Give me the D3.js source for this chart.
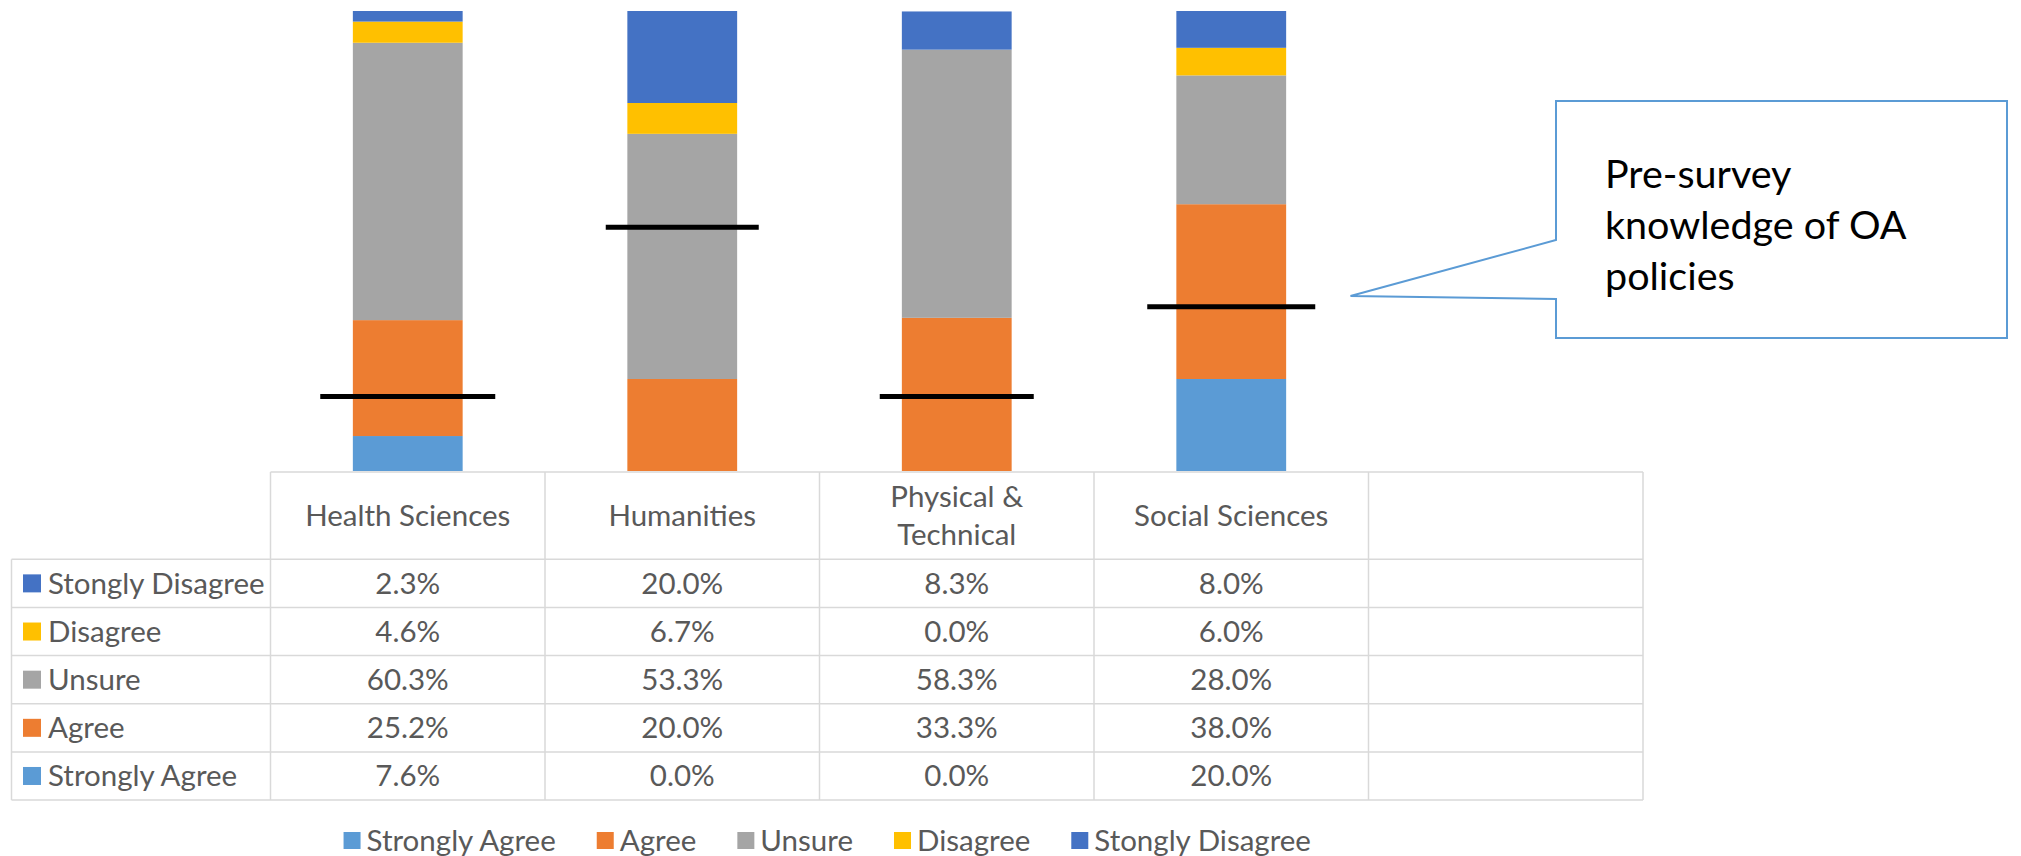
<!DOCTYPE html>
<html>
<head>
<meta charset="utf-8">
<script src="https://cdn.jsdelivr.net/npm/d3@7"></script>
<style>
  body { margin: 0; background: #fff; }
  svg { display: block; font-family: Lato, sans-serif; }
</style>
</head>
<body>
<div id="chart"></div>
<script>
// data (percent)
var categories = ["Health Sciences", "Humanities", "Physical & Technical", "Social Sciences"];
var seriesNames = ["Strongly Agree", "Agree", "Unsure", "Disagree", "Stongly Disagree"];
var stronglyAgree   = [7.6, 0.0, 0.0, 20.0];
var agree           = [25.2, 20.0, 33.3, 38.0];
var unsure          = [60.3, 53.3, 58.3, 28.0];
var disagree        = [4.6, 6.7, 0.0, 6.0];
var stonglyDisagree = [2.3, 20.0, 8.3, 8.0];
// black markers: pre-survey knowledge level
var preSurvey = [16.2, 53.0, 16.2, 35.7];
var calloutLines = ["Pre-survey", "knowledge of OA", "policies"];

var seriesValues = [stronglyAgree, agree, unsure, disagree, stonglyDisagree];
var colors = ["#5B9BD5", "#ED7D31", "#A5A5A5", "#FFC000", "#4472C4"];

var svgWidth = 2021, svgHeight = 856;
var plot = { left: 270.5, right: 1643, top: 11, bottom: 471 };
var table = { left: 11.5, top: 472, headerBottom: 559.3, rowH: 48.15 };
var fontSize = 29.5;
var textColor = "#595959";
var gridColor = "#D9D9D9";

var svg = d3.select("#chart").append("svg")
  .attr("width", svgWidth)
  .attr("height", svgHeight);

// table rows build
var rows = categories.map(function(c, i) {
  var r = { cat: c };
  seriesNames.forEach(function(s, j) { r[s] = seriesValues[j][i]; });
  return r;
});

// scales - the chart has an extra empty column at the end
var xDomain = categories.concat([""]);
var x = d3.scaleBand()
  .domain(xDomain)
  .range([plot.left, plot.right])
  .paddingInner(0.6)
  .paddingOuter(0.3);

var xCol = d3.scaleBand()
  .domain(xDomain)
  .range([plot.left, plot.right]);

var y = d3.scaleLinear()
  .domain([0, 100])
  .range([plot.bottom, plot.top]);

var stack = d3.stack().keys(seriesNames);
var stacked = stack(rows);

// stacked bars
svg.append("g").selectAll("g")
  .data(stacked)
  .enter()
  .append("g")
  .attr("fill", function(d, i) { return colors[i]; })
  .selectAll("rect")
  .data(function(d) { return d; })
  .enter()
  .append("rect")
  .attr("x", function(d) { return x(d.data.cat); })
  .attr("y", function(d) { return y(d[1]); })
  .attr("width", x.bandwidth())
  .attr("height", function(d) { return y(d[0]) - y(d[1]); });

// pre-survey marker lines
var markerLen = [175, 153, 154, 168];
svg.append("g").selectAll("line")
  .data(preSurvey)
  .enter()
  .append("line")
  .attr("x1", function(d, i) { return x(categories[i]) + x.bandwidth() / 2 - markerLen[i] / 2; })
  .attr("x2", function(d, i) { return x(categories[i]) + x.bandwidth() / 2 + markerLen[i] / 2; })
  .attr("y1", function(d) { return y(d); })
  .attr("y2", function(d) { return y(d); })
  .attr("stroke", "#000")
  .attr("stroke-width", 5);

// callout
var tipX = 1350.5, tipY = 296;
var box = { x: 1556, y: 101, w: 451, h: 237 };
var calloutPath = "M" + box.x + "," + box.y +
  " L" + (box.x + box.w) + "," + box.y +
  " L" + (box.x + box.w) + "," + (box.y + box.h) +
  " L" + box.x + "," + (box.y + box.h) +
  " L" + box.x + ",299" +
  " L" + tipX + "," + tipY +
  " L" + box.x + ",240 Z";
svg.append("path")
  .attr("d", calloutPath)
  .attr("fill", "#fff")
  .attr("stroke", "#5B9BD5")
  .attr("stroke-width", 2);

svg.append("g").selectAll("text")
  .data(calloutLines)
  .enter()
  .append("text")
  .attr("x", 1605)
  .attr("y", function(d, i) { return 188 + i * 51; })
  .attr("font-size", 39.5)
  .attr("fill", "#000")
  .text(function(d) { return d; });

// data table
var tableRight = plot.right;
var rowOrder = seriesNames.slice().reverse();
var nRows = rowOrder.length;
var tableBottom = table.headerBottom + nRows * table.rowH;
var grid = svg.append("g")
  .attr("stroke", gridColor)
  .attr("stroke-width", 1.5)
  .attr("fill", "none");

// header top border + left border of row labels
grid.append("line")
  .attr("x1", plot.left).attr("x2", tableRight)
  .attr("y1", table.top).attr("y2", table.top);
grid.append("line")
  .attr("x1", table.left).attr("x2", table.left)
  .attr("y1", table.headerBottom).attr("y2", tableBottom);

// horizontal row lines
d3.range(nRows + 1).forEach(function(i) {
  var yy = table.headerBottom + i * table.rowH;
  grid.append("line")
    .attr("x1", table.left).attr("x2", tableRight)
    .attr("y1", yy).attr("y2", yy);
});

// vertical column lines
xDomain.forEach(function(c) {
  grid.append("line")
    .attr("x1", xCol(c)).attr("x2", xCol(c))
    .attr("y1", table.top).attr("y2", tableBottom);
});
grid.append("line")
  .attr("x1", tableRight).attr("x2", tableRight)
  .attr("y1", table.top).attr("y2", tableBottom);

// header text with wrapping
var headerG = svg.append("g")
  .attr("font-size", fontSize)
  .attr("fill", textColor)
  .attr("text-anchor", "middle");

categories.forEach(function(c) {
  var t = headerG.append("text")
    .attr("x", xCol(c) + xCol.bandwidth() / 2);
  var words = c.split(" ");
  var lines = [], line = [];
  words.forEach(function(w) {
    line.push(w);
    t.text(line.join(" "));
    if (t.node().getComputedTextLength() > xCol.bandwidth() - 40 && line.length > 1) {
      line.pop();
      lines.push(line.join(" "));
      line = [w];
    }
  });
  lines.push(line.join(" "));
  t.text(null);
  var lh = 38.4;
  var mid = (table.top + table.headerBottom) / 2;
  lines.forEach(function(l, k) {
    t.append("tspan")
      .attr("x", xCol(c) + xCol.bandwidth() / 2)
      .attr("y", mid + (k - (lines.length - 1) / 2) * lh)
      .attr("dy", "0.35em")
      .text(l);
  });
});

// row labels with colour keys
var fmt = d3.format(".1f");
rowOrder.forEach(function(s, r) {
  var cy = table.headerBottom + (r + 0.5) * table.rowH;
  var j = seriesNames.indexOf(s);
  svg.append("rect")
    .attr("x", table.left + 11.5)
    .attr("y", cy - 9)
    .attr("width", 18)
    .attr("height", 18)
    .attr("fill", colors[j]);
  svg.append("text")
    .attr("x", table.left + 36.5)
    .attr("y", cy)
    .attr("dy", "0.35em")
    .attr("font-size", fontSize)
    .attr("fill", textColor)
    .text(s);
  svg.append("g").selectAll("text")
    .data(seriesValues[j])
    .enter()
    .append("text")
    .attr("x", function(d, i) { return xCol(categories[i]) + xCol.bandwidth() / 2; })
    .attr("y", cy)
    .attr("dy", "0.35em")
    .attr("text-anchor", "middle")
    .attr("font-size", fontSize)
    .attr("fill", textColor)
    .text(function(d) { return fmt(d) + "%"; });
});

// legend, centred under the table
var legend = svg.append("g");
var legendY = 841;
var cursor = 0;
seriesNames.forEach(function(s, i) {
  var g = legend.append("g");
  g.append("rect")
    .attr("x", 0).attr("y", legendY - 9)
    .attr("width", 17).attr("height", 17)
    .attr("fill", colors[i]);
  var t = g.append("text")
    .attr("x", 23).attr("y", legendY)
    .attr("dy", "0.35em")
    .attr("font-size", fontSize)
    .attr("fill", textColor)
    .text(s);
  var w = 23 + t.node().getComputedTextLength();
  g.attr("transform", "translate(" + cursor + ",0)");
  cursor += w + 41;
});
var legendWidth = cursor - 41;
legend.attr("transform", "translate(" + ((table.left + tableRight) / 2 - legendWidth / 2) + ",0)");
</script>
</body>
</html>
